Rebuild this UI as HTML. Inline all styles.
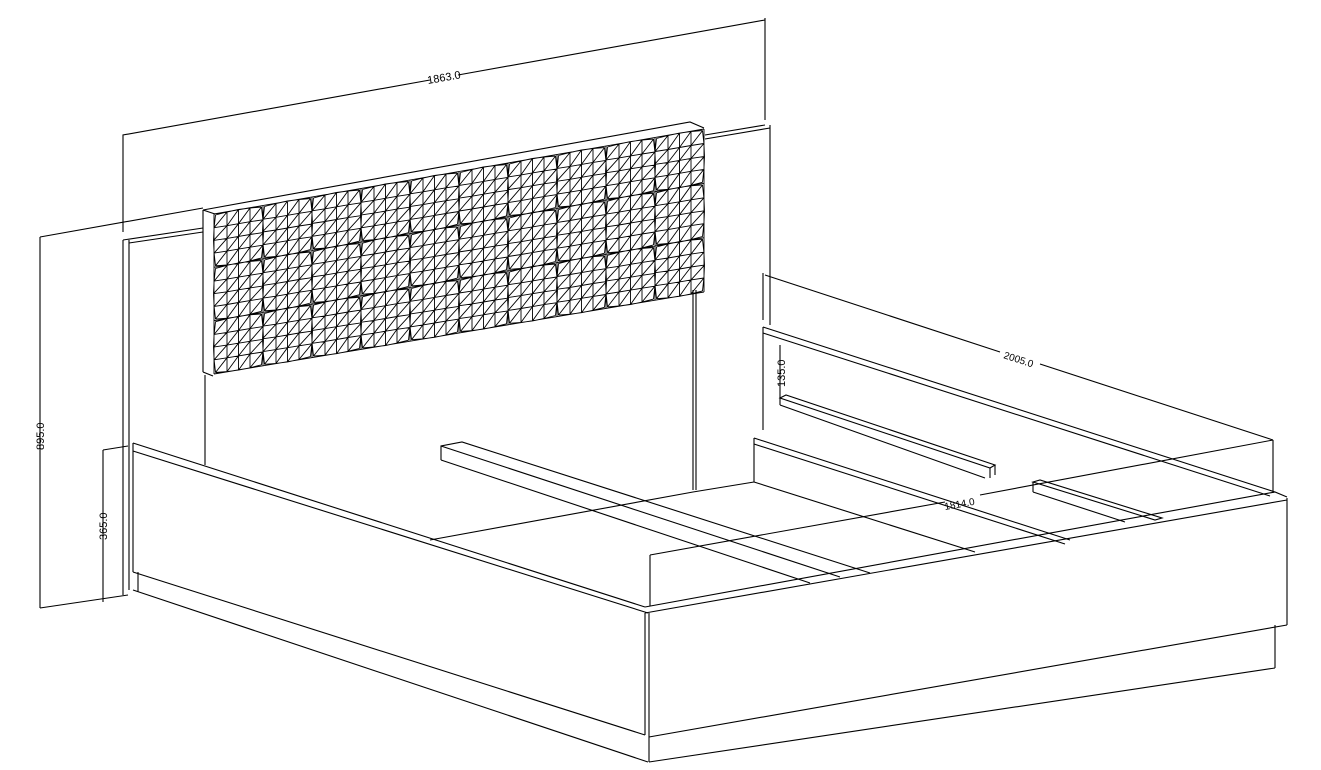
<!DOCTYPE html>
<html><head><meta charset="utf-8"><style>
html,body{margin:0;padding:0;background:#fff;}
svg{display:block}
text{font-family:"Liberation Sans",sans-serif;font-size:11px;fill:#000}
</style></head><body>
<svg id="s" width="1321" height="770" viewBox="0 0 1321 770" xmlns="http://www.w3.org/2000/svg" fill="none" stroke="#000" stroke-width="1.1">
<polyline points="123,232 123,135 430,80"/>
<polyline points="458,75 765,20"/>
<line x1="765" y1="18" x2="765" y2="120"/>
<text x="428" y="84" transform="rotate(-10 428 84)" stroke="none">1863.0</text>
<line x1="40" y1="237" x2="203" y2="208"/>
<line x1="40" y1="237" x2="40" y2="608"/>
<line x1="40" y1="608" x2="128" y2="595"/>
<text x="44" y="450" transform="rotate(-90 44 450)" stroke="none">895.0</text>
<line x1="103" y1="450" x2="128" y2="446"/>
<line x1="103" y1="450" x2="103" y2="602"/>
<text x="107" y="540" transform="rotate(-90 107 540)" stroke="none">365.0</text>
<polyline points="123,240 123,595"/>
<polyline points="129,240 129,590"/>
<polyline points="123,240 203,228"/>
<polyline points="129,243 203,232"/>
<line x1="205" y1="375" x2="205" y2="465"/>
<line x1="693" y1="290" x2="693" y2="490"/>
<line x1="696" y1="290" x2="696" y2="490"/>
<line x1="705" y1="135" x2="765" y2="125"/>
<line x1="705" y1="139" x2="770" y2="128"/>
<line x1="770" y1="125" x2="770" y2="325"/>
<polyline points="203,210 690,122 704,128"/>
<line x1="203" y1="210" x2="215" y2="214"/>
<line x1="203" y1="210" x2="203" y2="372"/>
<line x1="203" y1="372" x2="213" y2="376"/>
<g id="grid" stroke-width="0.9"></g>
<line x1="133" y1="443" x2="645" y2="607"/>
<line x1="133" y1="451" x2="648" y2="613"/>
<line x1="133" y1="443" x2="133" y2="572"/>
<line x1="133" y1="572" x2="645" y2="735"/>
<line x1="133" y1="590" x2="648" y2="762"/>
<line x1="138" y1="572" x2="138" y2="592"/>
<polyline points="645,607 1275,492 1287,497"/>
<polyline points="645,613 1287,500"/>
<line x1="645" y1="613" x2="645" y2="735"/>
<line x1="649" y1="613" x2="649" y2="740"/>
<line x1="1287" y1="498" x2="1287" y2="625"/>
<line x1="649" y1="737" x2="1287" y2="625"/>
<line x1="649" y1="740" x2="649" y2="762"/>
<line x1="649" y1="762" x2="1275" y2="668"/>
<line x1="1275" y1="625" x2="1275" y2="668"/>
<line x1="763" y1="327" x2="1275" y2="492"/>
<line x1="763" y1="333" x2="1270" y2="496"/>
<line x1="763" y1="327" x2="763" y2="430"/>
<line x1="763" y1="273" x2="763" y2="320"/>
<line x1="754" y1="438" x2="754" y2="482"/>
<line x1="754" y1="438" x2="1070" y2="540"/>
<line x1="754" y1="444" x2="1065" y2="544"/>
<line x1="754" y1="482" x2="975" y2="552"/>
<polyline points="430,540 693,492 754,482"/>
<polyline points="441,460 441,446 462,442 870,573"/>
<line x1="441" y1="446" x2="840" y2="577"/>
<line x1="441" y1="460" x2="810" y2="583"/>
<polygon points="780,398 786,395 995,465 990,468"/>
<line x1="780" y1="398" x2="780" y2="405"/>
<line x1="780" y1="405" x2="985" y2="478"/>
<line x1="990" y1="468" x2="990" y2="478"/>
<line x1="995" y1="465" x2="995" y2="475"/>
<polygon points="1033,482 1040,480 1162,518 1155,520"/>
<line x1="1033" y1="482" x2="1033" y2="492"/>
<line x1="1033" y1="492" x2="1125" y2="522"/>
<line x1="780" y1="345" x2="780" y2="398"/>
<text x="785" y="387" transform="rotate(-90 785 387)" stroke="none">135.0</text>
<line x1="765" y1="275" x2="1000" y2="352"/>
<line x1="1040" y1="364" x2="1273" y2="440"/>
<text x="1003" y="358" transform="rotate(18 1003 358)" stroke="none" style="font-size:10px">2005.0</text>
<line x1="650" y1="555" x2="945" y2="502"/>
<line x1="980" y1="495" x2="1273" y2="440"/>
<line x1="650" y1="555" x2="650" y2="606"/>
<line x1="1273" y1="440" x2="1273" y2="493"/>
<text x="945" y="510" transform="rotate(-10 945 510)" stroke="none" style="font-size:10px">1814.0</text>
</svg>
<script>
(function(){
var g=document.getElementById('grid'),NS='http://www.w3.org/2000/svg';
var TL=[214,214],TR=[704,129],BL=[214,374],BR=[704,292];
function P(u,v){var tx=TL[0]+(TR[0]-TL[0])*u,ty=TL[1]+(TR[1]-TL[1])*u,bx=BL[0]+(BR[0]-BL[0])*u,by=BL[1]+(BR[1]-BL[1])*u;return [tx+(bx-tx)*v,ty+(by-ty)*v];}
var s='';
function L(a,b){s+='M'+a[0].toFixed(1)+' '+a[1].toFixed(1)+'L'+b[0].toFixed(1)+' '+b[1].toFixed(1);}
var C=10,R=3,n=4;
for(var c=0;c<C;c++)for(var r=0;r<R;r++){
 var u0=c/C+0.003,u1=(c+1)/C-0.003,v0=r/R+0.008,v1=(r+1)/R-0.008;
 function Q(i,j){var u=u0+(u1-u0)*i/n,v=v0+(v1-v0)*j/n;var p=P(u,v);
   var bu=Math.sin(Math.PI*j/n)*2*((i==0)?-1:(i==n)?1:0);
   var bv=Math.sin(Math.PI*i/n)*1.5*((j==0)?-1:(j==n)?1:0);
   return [p[0]+bu,p[1]+bv];}
 for(var i=0;i<=n;i++)for(var j=0;j<n;j++)L(Q(i,j),Q(i,j+1));
 for(var j=0;j<=n;j++)for(var i=0;i<n;i++)L(Q(i,j),Q(i+1,j));
 for(var i=0;i<n;i++)for(var j=0;j<n;j++)L(Q(i,j+1),Q(i+1,j));
}
for(var r=0;r<=R;r++){L(P(0,r/R),P(1,r/R));}
for(var c=0;c<=C;c++){L(P(c/C,0),P(c/C,1));}
var p=document.createElementNS(NS,'path');p.setAttribute('d',s);g.appendChild(p);
})();
</script>
</body></html>
